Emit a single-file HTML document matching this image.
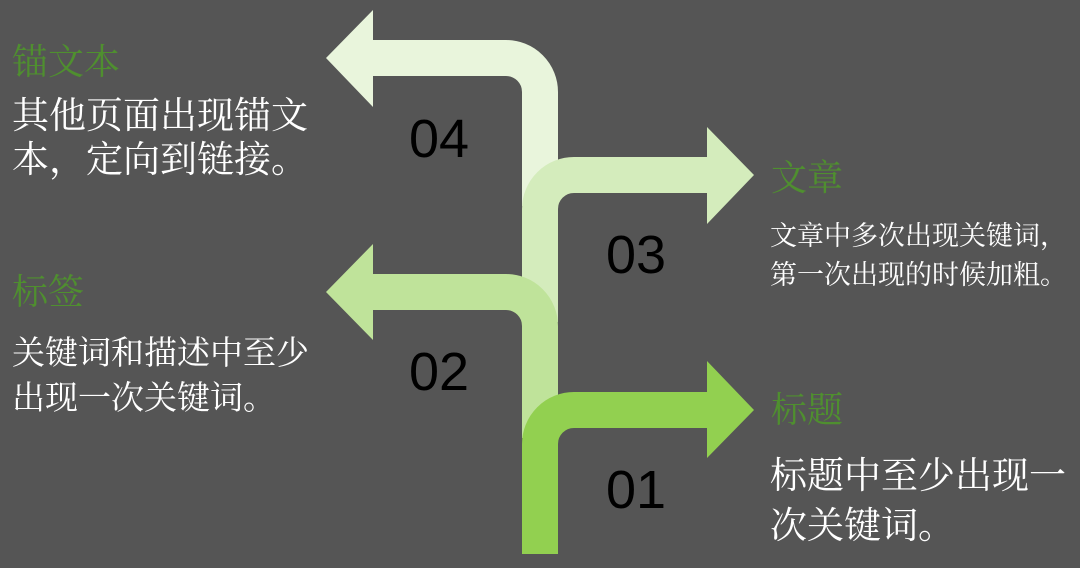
<!DOCTYPE html>
<html><head><meta charset="utf-8"><style>
body{margin:0;width:1080px;height:568px;background:#555555;overflow:hidden;position:relative;font-family:"Liberation Serif","Noto Serif CJK SC",serif}
.t{position:absolute;white-space:nowrap;line-height:1}
.g{color:#4f8f2f}
.w{color:#fff}
.n{position:absolute;font-family:"Liberation Sans",sans-serif;font-size:54px;color:#000;line-height:1}
</style></head><body>
<svg width="1080" height="568" style="position:absolute;left:0;top:0" fill="none">
<path d="M540 206 V92 A34 34 0 0 0 506 58 H370" stroke="#e9f5dc" stroke-width="36"/>
<polygon points="373,10 326,58 373,107" fill="#e9f5dc"/>
<path d="M540 322 V209 A34 34 0 0 1 574 175 H710" stroke="#d4ecbc" stroke-width="36"/>
<polygon points="707,127 754,175 707,224" fill="#d4ecbc"/>
<path d="M540 438 V326 A34 34 0 0 0 506 292 H370" stroke="#bfe39a" stroke-width="36"/>
<polygon points="373,244 326,292 373,340" fill="#bfe39a"/>
<path d="M540 554 V444 A34 34 0 0 1 574 410 H710" stroke="#92d050" stroke-width="36"/>
<polygon points="707,361 754,410 707,458" fill="#92d050"/>
</svg>
<div class="n" style="left:409px;top:112px">04</div>
<div class="n" style="left:606px;top:228px">03</div>
<div class="n" style="left:409px;top:345px">02</div>
<div class="n" style="left:606px;top:463px">01</div>
<div class="t g" style="left:12px;top:44px;font-size:36px">锚文本</div>
<div class="t w" style="left:12px;top:98px;font-size:37px">其他页面出现锚文</div>
<div class="t w" style="left:12px;top:142px;font-size:37px">本，定向到链接。</div>
<div class="t g" style="left:12px;top:274px;font-size:36px">标签</div>
<div class="t w" style="left:12px;top:338px;font-size:33px">关键词和描述中至少</div>
<div class="t w" style="left:12px;top:383px;font-size:33px">出现一次关键词。</div>
<div class="t g" style="left:771px;top:160px;font-size:36px">文章</div>
<div class="t w" style="left:770px;top:223px;font-size:27px">文章中多次出现关键词，</div>
<div class="t w" style="left:770px;top:262px;font-size:27px">第一次出现的时候加粗。</div>
<div class="t g" style="left:771px;top:392px;font-size:36px">标题</div>
<div class="t w" style="left:770px;top:458px;font-size:37px">标题中至少出现一</div>
<div class="t w" style="left:770px;top:508px;font-size:37px">次关键词。</div>
</body></html>
